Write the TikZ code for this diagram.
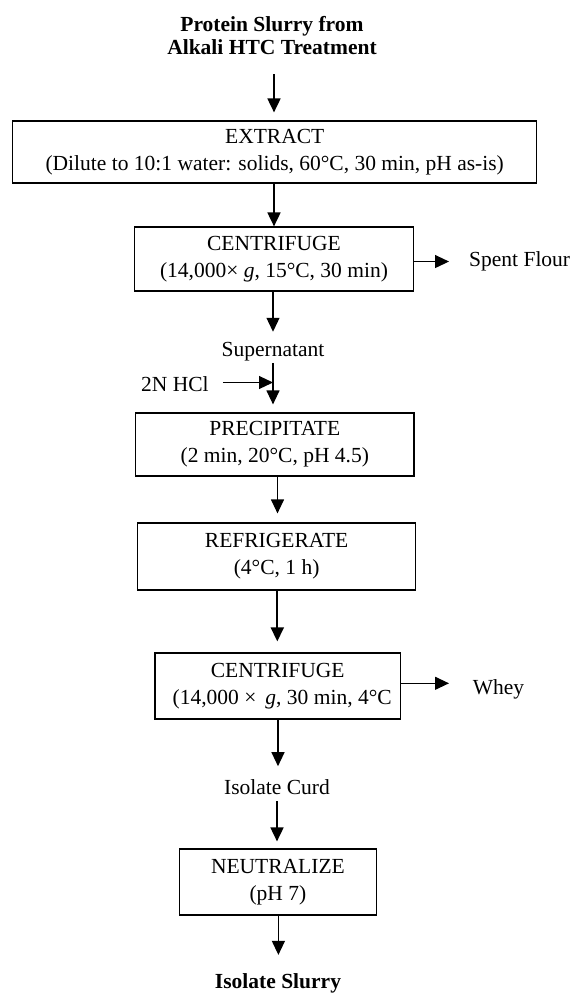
\documentclass[tikz,border=0pt]{standalone}
\usepackage{fontspec}
\setmainfont{Liberation Serif}
\usetikzlibrary{arrows.meta}
\begin{document}
\begin{tikzpicture}[x=1pt,y=-1pt,
  box/.style={draw, line width=1.2pt, align=center, inner sep=0pt,
    font=\fontsize{21.5}{26.7}\selectfont},
  lbl/.style={inner sep=0pt, font=\fontsize{21.5}{26}\selectfont},
  boldlbl/.style={inner sep=0pt, align=center, font=\fontsize{21.5}{23.6}\selectfont\bfseries},
  arr/.style={-{Triangle[length=14pt,width=13pt]}, line width=1.2pt},
  thickarr/.style={arr, line width=1.8pt}]
\useasboundingbox (0,0) rectangle (573,994);

% nodes
\node[boldlbl] (title) at (272,35.5) {Protein Slurry from\\Alkali HTC Treatment};
\node[box, minimum width=524pt, minimum height=62pt] (extract) at (274.7,152)
  {EXTRACT\\(Dilute to 10:1 water: solids, 60°C, 30 min, pH as-is)};
\node[box, minimum width=278.5pt, minimum height=64pt] (cent1) at (274,259)
  {CENTRIFUGE\\(14,000× \textit{g}, 15°C, 30 min)};
\node[lbl, anchor=base west] (spent) at (469,266.7) {Spent Flour};
\node[lbl, anchor=base] (super) at (273,356.7) {Supernatant};
\node[lbl, anchor=base west] (hcl) at (141,391.7) {2N HCl};
\node[box, minimum width=278.5pt, minimum height=63pt] (precip) at (274.8,444.5)
  {PRECIPITATE\\(2 min, 20°C, pH 4.5)};
\node[box, minimum width=278.4pt, minimum height=67pt] (refrig) at (276.6,556.5)
  {REFRIGERATE\\(4°C, 1 h)};
\node[box, minimum width=245.4pt, minimum height=66pt] (cent2) at (277.7,686)
  {CENTRIFUGE\\\hspace*{9pt}(14,000 × \,\textit{g}, 30 min, 4°C};
\node[lbl, anchor=base west] (whey) at (472.6,694.3) {Whey};
\node[lbl, anchor=base] (curd) at (277,794.3) {Isolate Curd};
\node[box, minimum width=196.7pt, minimum height=66pt] (neut) at (277.9,882)
  {NEUTRALIZE\\(pH 7)};
\node[boldlbl, anchor=base] (slurry) at (278,988) {Isolate Slurry};

% column helpers
\coordinate (k1) at (274,0);
\coordinate (k2) at (273,0);
\coordinate (k3) at (277.5,0);
\coordinate (k4) at (277.3,0);
\coordinate (k5) at (278,0);
\coordinate (k6) at (277,0);
\coordinate (k7) at (278.4,0);
\coordinate (hj) at (273,382.5);
\coordinate (wj) at (449,683.3);

% connectors
\draw[thickarr, shorten <=19pt, shorten >=8pt] (title.south -| k1) -- (extract.north -| k1);
\draw[thickarr] (extract.south -| k1) -- (cent1.north -| k1);
\draw[arr, shorten >=10.5pt] (cent1.south -| k2) -- (super.north -| k2);
\draw[arr, shorten <=1.5pt, shorten >=8pt] (super.south -| k2) -- (precip.north -| k2);
\draw[arr, shorten <=14pt] (hcl.east |- hj) -- (hj);
\draw[arr, shorten >=9pt] (precip.south -| k3) -- (refrig.north -| k3);
\draw[thickarr, shorten >=11pt] (refrig.south -| k4) -- (cent2.north -| k4);
\draw[arr, shorten >=13pt] (cent2.south -| k5) -- (curd.north -| k5);
\draw[thickarr, shorten <=6.4pt, shorten >=7pt] (curd.south -| k6) -- (neut.north -| k6);
\draw[arr, shorten >=18pt] (neut.south -| k7) -- (slurry.north -| k7);
\draw[arr, shorten >=20pt] (cent1.east |- spent.west) -- (spent.west);
\draw[arr] (cent2.east |- wj) -- (wj);
\end{tikzpicture}
\end{document}
